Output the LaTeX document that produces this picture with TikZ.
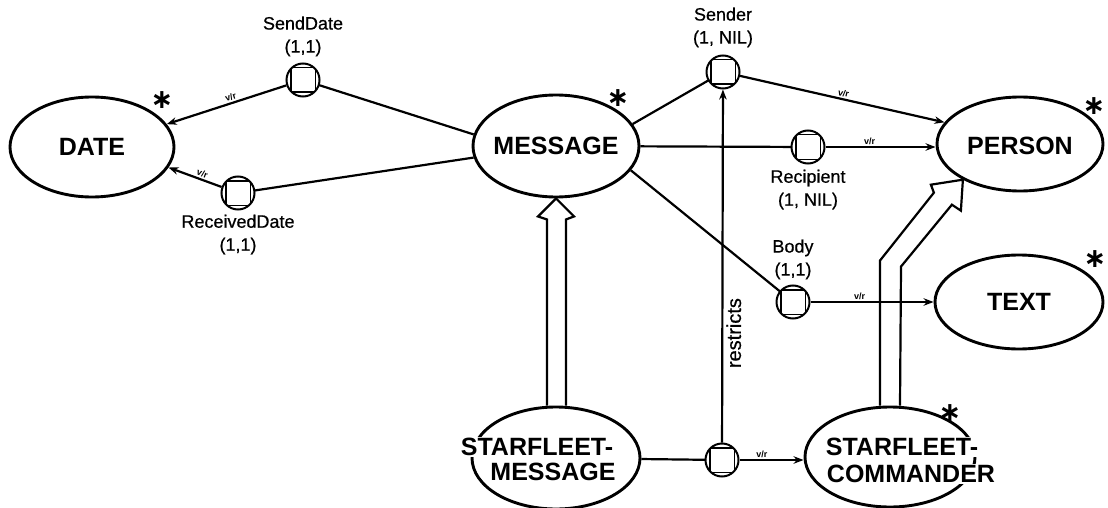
\documentclass[tikz,border=0pt]{standalone}
\usepackage{fontspec}
\setmainfont{Liberation Sans}
\newfontfamily\starfont{DejaVu Sans}
\newfontfamily\lblfont{Liberation Sans}[FakeBold=0.6]
\usetikzlibrary{shapes.geometric,arrows.meta,calc}
\begin{document}
\begin{tikzpicture}[x=1pt,y=-1pt,
  ent/.style={ellipse, draw, line width=2.9pt, inner sep=0pt},
  enttext/.style={font=\bfseries\fontsize{25}{25}\selectfont, inner sep=1pt},
  rel/.style={circle, draw, fill=white, line width=2pt, minimum size=33pt, inner sep=0pt,
    path picture={\draw[line width=1.6pt] ([shift={(-12.3pt,-12.3pt)}]path picture bounding box.center) rectangle ([shift={(12.3pt,12.3pt)}]path picture bounding box.center);}},
  lbl/.style={font=\lblfont\fontsize{18}{23}\selectfont, align=center, inner sep=0pt},
  conn/.style={line width=2.2pt},
  arr/.style={conn, -{Stealth[length=10pt,width=7.5pt]}},
  vr/.style={font=\bfseries\fontsize{9}{9}\selectfont, inner sep=1.5pt},
  inh/.style={line width=2.2pt, line join=miter},
  startxt/.style={font=\starfont\bfseries\fontsize{27}{27}\selectfont, inner sep=0pt}
]
\useasboundingbox (0,0) rectangle (1108,508);

% entities
\node[ent, minimum width=164pt, minimum height=100pt, label={[enttext,name=datet]center:DATE}] (date) at (92,147) {};
\node[ent, minimum width=166pt, minimum height=102pt, label={[enttext,name=msgt]center:MESSAGE}] (msg) at (556,146) {};
\node[ent, minimum width=166pt, minimum height=94pt, label={[enttext,name=persont,yshift=-2pt]center:PERSON}] (person) at (1020,144) {};
\node[ent, minimum width=168pt, minimum height=94pt, label={[enttext,name=textt]center:TEXT}] (text) at (1019,302) {};
\node[ent, minimum width=168pt, minimum height=102pt] (sfm) at (556,458) {};
\node[ent, minimum width=170pt, minimum height=100pt] (sfc) at (890,457) {};
\node[enttext, fill=white] (sfm1) at (537,447) {STARFLEET-};
\node[enttext, fill=white] (sfm2) at (553,472) {MESSAGE};
\node[enttext, fill=white] (sfc1) at (902,447) {STARFLEET-};
\node[enttext, fill=white] (sfc2) at (911,474) {COMMANDER};

% stars
\node[startxt] (s1) at (162,100) {∗};
\node[startxt] (s2) at (618,98) {∗};
\node[startxt] (s3) at (1094,106) {∗};
\node[startxt] (s4) at (1095,259) {∗};
\node[startxt] (s5) at (950,413) {∗};

% relationship coordinates
\coordinate (sdc) at (303,80);
\coordinate (rdc) at (238,193);
\coordinate (sndc) at (723,72);
\coordinate (rcpc) at (808,147);
\coordinate (bodyc) at (793,302);
\coordinate (rstc) at (722,460);

% connectors
\draw[conn] (msg.172) -- (sdc);
\draw[conn] (msg.188) -- (rdc);
\draw[conn] (msg.16) -- (sndc);
\draw[conn] (msg) -- (rcpc);
\draw[conn] (msg.-18) -- (bodyc);
\draw[conn] (sfm) -- (rstc);

% relationship nodes
\node[rel] (sd) at (sdc) {};
\node[rel] (rd) at (rdc) {};
\node[rel] (snd) at (sndc) {};
\node[rel] (rcp) at (rcpc) {};
\node[rel] (body) at (bodyc) {};
\node[rel] (rst) at (rstc) {};

\draw[arr] (sd) -- node[vr, sloped, above, pos=0.45] (vr1) {v/r} (date.17);
\draw[arr] (rd) -- node[vr, sloped, above, pos=0.4] (vr2) {v/r} (date.-15);
\draw[arr] (snd) -- node[vr, sloped, above, pos=0.5] (vr3) {v/r} (person.164);
\draw[arr] (rcp) -- node[vr, above, pos=0.4] (vr4) {v/r} (rcp -| person.west);
\draw[arr] (body) -- node[vr, above, pos=0.4] (vr5) {v/r} (body -| text.west);
\draw[arr] (rst) -- node[vr, above, pos=0.35] (vr6) {v/r} (rst -| sfc.west);
\draw[arr] (rst) -- node[lbl, font=\lblfont\fontsize{20}{23}\selectfont, sloped, below, pos=0.31, inner sep=3pt] (restr) {restricts} (snd);

% relationship labels
\node[lbl, anchor=south] (sdl) at ([yshift=6pt]sd.north) {SendDate\\(1,1)};
\node[lbl, anchor=north] (rdl) at ([yshift=-4pt]rd.south) {ReceivedDate\\(1,1)};
\node[lbl, anchor=south] (sndl) at ([yshift=7pt]snd.north) {Sender\\(1, NIL)};
\node[lbl, anchor=north] (rcpl) at ([yshift=-5pt]rcp.south) {Recipient\\(1, NIL)};
\node[lbl, anchor=south] (bodyl) at ([yshift=5pt]body.north) {Body\\(1,1)};

% inheritance arrows
\draw[inh] ($(sfm.north)+(-9,0)$) -- ($(msg.south)+(-9,21)$) -- ($(msg.south)+(-18,18)$) -- (msg.south)
  -- ($(msg.south)+(18,18)$) -- ($(msg.south)+(10,21)$) -- ($(sfm.north)+(10,0)$);
\draw[inh] ($(sfc.north)+(-10,0)$) -- ($(sfc.north)+(-10,-145)$) -- ($(person.212)+(-29,13)$)
  -- ($(person.212)+(-32,5)$) -- (person.212) -- ($(person.212)+(-2,31)$)
  -- ($(person.212)+(-11,25)$) -- ($(sfc.north)+(11,-139)$) -- ($(sfc.north)+(10,0)$);
\end{tikzpicture}
\end{document}
